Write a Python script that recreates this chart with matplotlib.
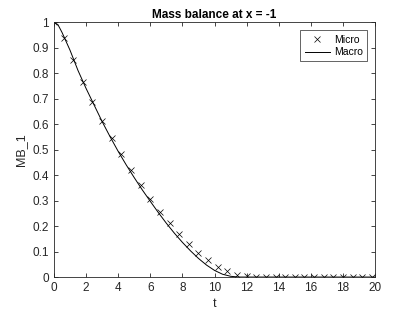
import numpy as np
import matplotlib.pyplot as plt

plt.rcParams['font.family'] = ['Liberation Sans', 'DejaVu Sans']

# micro samples (every 0.6 in t)
t_micro = np.arange(34) * 0.6
mb_micro = [1.0, 0.938, 0.85, 0.765, 0.687, 0.614, 0.546, 0.482, 0.42, 0.363,
            0.308, 0.257, 0.211, 0.167, 0.128, 0.093, 0.065, 0.041, 0.023, 0.01,
            0.005, 0.002, 0.001, 0.0, 0.0, 0.0, 0.0, 0.0, 0.0, 0.0,
            0.0, 0.0, 0.0, 0.0]

# macro curve
t_macro = [0, 0.25, 0.5, 1, 1.5, 2, 2.5, 3, 3.5, 4, 4.5, 5, 5.5, 6, 6.5, 7,
           7.5, 8, 8.5, 9, 9.5, 10, 10.5, 11, 11.5, 12, 14, 16, 18, 20]
mb_macro = [1.0, 0.99, 0.96, 0.89, 0.81, 0.74, 0.675, 0.61, 0.55, 0.493, 0.44,
            0.39, 0.342, 0.297, 0.253, 0.211, 0.172, 0.136, 0.103, 0.073, 0.047,
            0.026, 0.011, 0.003, 0.0, 0.0, 0.0, 0.0, 0.0, 0.0]

fig = plt.figure(figsize=(4.15, 3.12), dpi=100)
ax = fig.add_axes([0.13, 0.112, 0.774, 0.817])

ax.plot(t_micro, mb_micro, 'x', color='black', markersize=4, markeredgewidth=0.5, label='Micro')
ax.plot(t_macro, mb_macro, '-', color='black', linewidth=0.7, label='Macro')

ax.set_xlim(0, 20)
ax.set_ylim(0, 1)
ax.set_xticks(np.arange(0, 21, 2))
ax.set_yticks(np.arange(0, 1.01, 0.1))
ax.set_yticklabels(['0', '0.1', '0.2', '0.3', '0.4', '0.5', '0.6', '0.7', '0.8', '0.9', '1'])

gray = '#262626'
for s in ax.spines.values():
    s.set_color(gray)
    s.set_linewidth(0.6)
ax.tick_params(direction='in', top=True, right=True, length=3, width=0.6,
               colors=gray, labelsize=8.5, labelcolor=gray)

ax.set_title('Mass balance at x = -1', fontsize=8.5, fontweight='bold', pad=3)
ax.set_xlabel('t', fontsize=9, color=gray, labelpad=3)
ax.set_ylabel('MB_1', fontsize=9, color=gray, labelpad=4)

leg = ax.legend(loc='upper right', fontsize=7.5, fancybox=False, framealpha=1,
                borderpad=0.4, handlelength=2.4, handletextpad=0.4,
                labelspacing=0.25, borderaxespad=0.8)
leg.get_frame().set_edgecolor(gray)
leg.get_frame().set_linewidth(0.5)

fig.savefig('out.png', dpi=100)
